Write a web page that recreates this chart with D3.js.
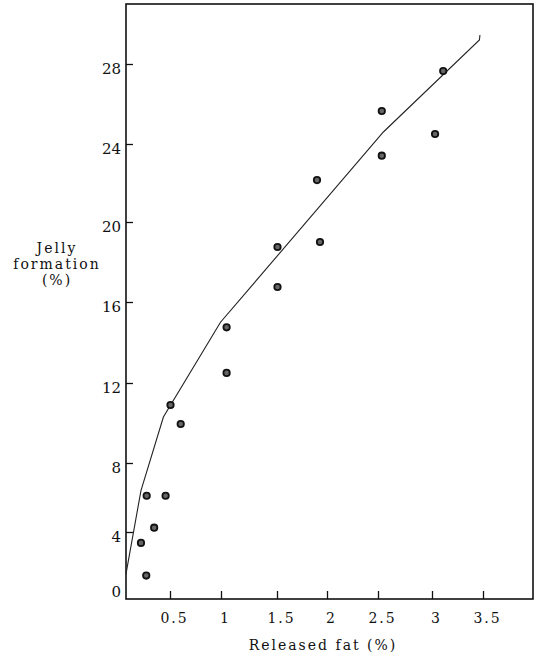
<!DOCTYPE html>
<html>
<head>
<meta charset="utf-8">
<script src="https://d3js.org/d3.v7.min.js"></script>
<style>
    body { margin: 0; background: #fff; }
    svg { display: block; font-family: "DejaVu Serif", serif; }
    .ytick text { font-family: "DejaVu Serif", serif; font-size: 15px; fill: #111; }
    .xtick text { font-family: "DejaVu Serif", serif; font-size: 14px; letter-spacing: 2px; fill: #111; }
    .ytick line, .xtick line { stroke: #111; stroke-width: 1.3; }
    .title { font-size: 14px; letter-spacing: 2px; fill: #111; }
    .frame { fill: none; stroke: #111; stroke-width: 1.6; }
    .fit { fill: none; stroke: #222; stroke-width: 1.1; }
    .dot { fill: #666; stroke: #111; stroke-width: 1.8; }
</style>
</head>
<body>
<svg width="536" height="655"></svg>
<script>
    // measured samples: released fat (%) vs jelly formation (%)
    const fatX   = [0.17, 0.23, 0.235, 0.32, 0.45, 0.505, 0.605, 1.05, 1.05, 1.505, 1.505, 1.9, 1.93, 2.535, 2.535, 3.03, 3.11];
    const jellyY = [3.35, 1.4, 6.1, 4.25, 6.1, 10.9, 9.95, 14.75, 12.5, 18.75, 16.75, 22.15, 19.0, 25.65, 23.4, 24.5, 27.65];

    // hand drawn trend line
    const curveX = [0, 0.17, 0.425, 0.995, 2.55, 3.465, 3.47];
    const curveY = [1.5, 6.4, 10.3, 15.0, 24.6, 29.2, 29.45];

    const xTicks = [0.5, 1, 1.5, 2, 2.5, 3, 3.5];
    const xTickLabels = ["0.5", "1", "1.5", "2", "2.5", "3", "3.5"];
    const yTicks = [0, 4, 8, 12, 16, 20, 24, 28];

    let svg = d3.select("svg");
    let plotL = 126, plotR = 533, plotT = 4, plotB = 599;

    // the printed axes are not evenly spaced, so use piecewise scales
    let x = d3.scaleLinear()
        .domain([0, 0.5, 1, 1.5, 2, 2.5, 3, 3.5, 4])
        .range([plotL, 170, 221, 277, 327, 378, 432, 483, plotR]);
    let y = d3.scaleLinear()
        .domain([0, 4, 8, 12, 16, 20, 24, 28, 31])
        .range([plotB, 532, 463, 383, 302, 222, 144, 64, plotT]);

    // x axis, ticks pointing inward
    svg.append("g")
        .attr("class", "xtick")
        .attr("transform", `translate(0,${plotB})`)
        .call(d3.axisBottom(x).tickValues(xTicks)
            .tickFormat((d, i) => xTickLabels[i])
            .tickSizeInner(-8).tickSizeOuter(0))
        .call(g => g.select(".domain").remove())
        .call(g => g.selectAll("text").attr("y", 14).attr("dx", 4));

    // y axis
    svg.append("g")
        .attr("class", "ytick")
        .attr("transform", `translate(${plotL},0)`)
        .call(d3.axisLeft(y).tickValues(yTicks)
            .tickSizeInner(-7).tickSizeOuter(0).tickPadding(5))
        .call(g => g.select(".domain").remove())
        .call(g => g.selectAll("text").attr("dy", d => d === 0 ? "-0.15em" : "0.6em"))
        .call(g => g.selectAll("line").filter(d => d === 0).remove());

    // frame
    svg.append("rect")
        .attr("class", "frame")
        .attr("x", plotL).attr("y", plotT)
        .attr("width", plotR - plotL).attr("height", plotB - plotT);

    // trend line
    let line = d3.line()
        .x((d, i) => x(curveX[i]))
        .y((d, i) => y(curveY[i]));
    svg.append("path")
        .attr("class", "fit")
        .attr("d", line(curveX));

    // points
    svg.append("g")
        .selectAll("circle")
        .data(fatX)
        .enter().append("circle")
            .attr("class", "dot")
            .attr("cx", d => x(d))
            .attr("cy", (d, i) => y(jellyY[i]))
            .attr("r", 3.2);

    // titles
    svg.append("text")
        .attr("class", "title")
        .attr("x", 323).attr("y", 650)
        .attr("text-anchor", "middle")
        .text("Released fat (%)");

    let ytitle = svg.append("text")
        .attr("class", "title")
        .attr("text-anchor", "middle");
    ["Jelly", "formation", "(%)"].forEach((s, i) => {
        ytitle.append("tspan")
            .attr("x", 57)
            .attr("y", 253 + i * 16)
            .text(s);
    });
</script>
</body>
</html>
